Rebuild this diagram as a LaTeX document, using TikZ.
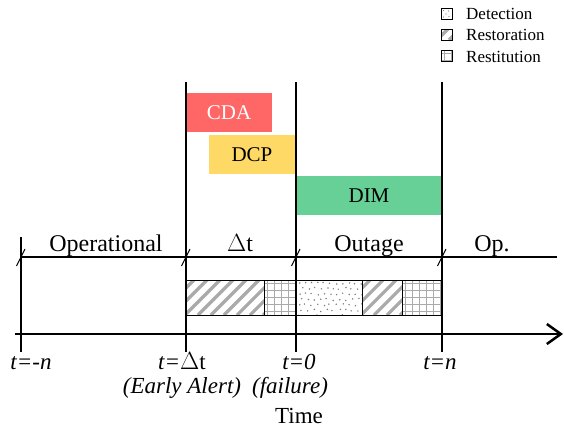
\documentclass[tikz,border=0pt]{standalone}
\usepackage{fontspec}
\setmainfont{LiberationSerif}[Extension=.ttf,UprightFont=*-Regular,ItalicFont=*-Italic,BoldFont=*-Bold,BoldItalicFont=*-BoldItalic]
\usetikzlibrary{arrows.meta}
\definecolor{cdared}{RGB}{255,102,102}
\definecolor{dcpyel}{RGB}{255,217,102}
\definecolor{dimgrn}{RGB}{102,208,150}
\definecolor{patgray}{RGB}{170,170,170}
\newcommand\myhatch[5]{% x1 y1 x2 y2 spacing
  \begin{scope}
    \clip (#1,#2) rectangle (#3,#4);
    \foreach \n in {0,...,12}{
      \pgfmathsetmacro\kk{-40+\n*#5}
      \draw[patgray,line width=3.2pt] ({#1+\kk},{#4}) -- ({#1+\kk+40},{#4-40});
    }
  \end{scope}}
\newcommand\mygrid[4]{%
  \begin{scope}
    \clip (#1,#2) rectangle (#3,#4);
    \foreach \n in {0,...,8}{
      \pgfmathsetmacro\kk{3.5+\n*7}
      \draw[patgray,line width=1.5pt] ({#1+\kk},#2) -- ({#1+\kk},#4);
      \draw[patgray,line width=1.5pt] (#1,{#2+\kk}) -- (#3,{#2+\kk});
    }
  \end{scope}}
\newcommand\mydots[4]{% x1 y1 x2 y2
  \begin{scope}
    \clip (#1,#2) rectangle (#3,#4);
    \pgfmathsetseed{11}
    \foreach \r in {0,...,6}{
      \foreach \c in {0,...,11}{
        \pgfmathsetmacro\dx{3+\c*6.2+mod(\r,2)*3.1+rand*1.2}
        \pgfmathsetmacro\dy{3+\r*5.5+rand*1.2}
        \fill[gray] ({#1+\dx},{#2+\dy}) circle (0.85pt);
      }
    }
  \end{scope}}
\begin{document}
\begin{tikzpicture}[x=1pt,y=-1pt,
  phase/.style={line width=2pt},
  bord/.style={draw=black,line width=1pt},
  lab/.style={font=\fontsize{24}{26}\selectfont,anchor=base,inner sep=0pt},
  tlab/.style={font=\fontsize{23}{25}\selectfont,anchor=base,inner sep=0pt},
  blk/.style={font=\fontsize{21}{23}\selectfont,inner sep=0pt,draw=none},
  leg/.style={font=\fontsize{17}{19}\selectfont,anchor=west,inner sep=0pt},
  slash/.style={line width=1pt}]
\useasboundingbox (0,0) rectangle (564,437);
% coloured activity boxes
\node[blk,fill=cdared,text=white,minimum width=86pt,minimum height=39pt] (cda) at (229,112.5) {CDA};
\node[blk,fill=dcpyel,minimum width=86pt,minimum height=39pt] (dcp) at (252,154.5) {DCP};
\node[blk,fill=dimgrn,minimum width=146pt,minimum height=39pt] (dim) at (369,195.5) {DIM};
% bars with patterns
\myhatch{186}{280}{264}{315}{13}
\mygrid{264}{280}{296}{315}
\mydots{296}{280}{362}{315}
\myhatch{362}{280}{402}{315}{13}
\mygrid{402}{280}{442}{315}
\node[bord,minimum width=78pt,minimum height=35pt,inner sep=0pt] (s1) at (225,297.5) {};
\node[bord,minimum width=32pt,minimum height=35pt,inner sep=0pt] (s2) at (280,297.5) {};
\node[bord,minimum width=66pt,minimum height=35pt,inner sep=0pt] (s3) at (329,297.5) {};
\node[bord,minimum width=40pt,minimum height=35pt,inner sep=0pt] (s4) at (382,297.5) {};
\node[bord,minimum width=40pt,minimum height=35pt,inner sep=0pt] (s5) at (422,297.5) {};
% phase line
\coordinate (hl) at (21,257);
\coordinate (hr) at (557,257);
\draw[line width=1.3pt] (hl) -- (hr);
% vertical lines
\coordinate (v0t) at (21,237); \coordinate (v0b) at (21,352);
\coordinate (v1t) at (186,82); \coordinate (v1b) at (186,352);
\coordinate (v2t) at (296,82); \coordinate (v2b) at (296,352);
\coordinate (v3t) at (442,82); \coordinate (v3b) at (442,352);
\draw[line width=1.5pt] (v0t) -- (v0b);
\draw[phase] (v1t) -- (v1b);
\draw[phase] (v2t) -- (v2b);
\draw[phase] (v3t) -- (v3b);
% slashes
\foreach \x in {21,186,296,442}{
  \draw[slash] ({\x-4.5},266) -- ({\x+4},249);
}
% time axis
\coordinate (a0) at (15,334);
\coordinate (a1) at (563,334);
\draw[line width=2.5pt,-{Straight Barb[length=14pt,width=20pt,line width=2.5pt]}] (a0) -- (a1);
% phase labels
\node[lab] (op) at (106,251) {Operational};
\node[lab] (dt) at (240,251) {$\Delta$t};
\node[lab] (out) at (369,251) {Outage};
\node[lab] (op2) at (492,251) {Op.};
% axis labels
\node[tlab] (t1) at (31,369) {\textit{t=-n}};
\node[tlab] (t2) at (182,369) {\textit{t=}$\Delta$t};
\node[tlab] (t3) at (299,369) {\textit{t=0}};
\node[tlab] (t4) at (440,369) {\textit{t=n}};
\node[tlab] (ea) at (182,393) {\textit{(Early Alert)}};
\node[tlab] (fl) at (290,393) {\textit{(failure)}};
\node[tlab] (tm) at (299,423) {Time};
% legend
\begin{scope}
  \clip (441,8) rectangle (452,19);
  \fill[gray] (443.5,10.5) circle (0.7pt) (448.5,11) circle (0.7pt) (446,14) circle (0.7pt) (443.5,17) circle (0.7pt) (449,16.5) circle (0.7pt);
\end{scope}
\myhatch{441}{29}{452}{40}{12}
\mygrid{441}{50}{452}{61}
\node[draw,line width=0.8pt,minimum size=11pt,inner sep=0pt] (lb1) at (446.5,13.5) {};
\node[draw,line width=0.8pt,minimum size=11pt,inner sep=0pt] (lb2) at (446.5,34.5) {};
\node[draw,line width=0.8pt,minimum size=11pt,inner sep=0pt] (lb3) at (446.5,55.5) {};
\node[leg] (l1) at (466,14) {Detection};
\node[leg] (l2) at (466,35) {Restoration};
\node[leg] (l3) at (466,57) {Restitution};
\end{tikzpicture}
\end{document}
